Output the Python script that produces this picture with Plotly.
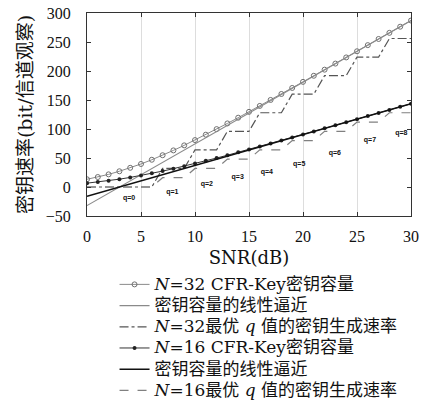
import plotly.graph_objects as go

snr_db = list(range(0, 31))

cap_n32 = [13.3, 17.2, 21.8, 27.1, 33.1, 39.7, 47.0, 54.8, 63.1, 71.8, 80.9,
           90.2, 99.8, 109.6, 119.5, 129.6, 139.8, 150.1, 160.4, 170.8, 181.3,
           191.8, 202.3, 212.8, 223.4, 234.0, 244.6, 255.2, 265.8, 276.4, 287.0]
cap_n16 = [6.6, 8.6, 10.9, 13.5, 16.5, 19.9, 23.5, 27.4, 31.6, 35.9, 40.4,
           45.1, 49.9, 54.8, 59.8, 64.8, 69.9, 75.0, 80.2, 85.4, 90.6,
           95.9, 101.1, 106.4, 111.7, 117.0, 122.3, 127.6, 132.9, 138.2, 143.5]

lin_x = [0, 30]
lin_n32 = [-32.0, 287.0]
lin_n16 = [-16.0, 143.5]

rate_n32 = [0, 0, 0, 0, 0, 0, 0, 32, 32, 32, 64, 64, 64, 96, 96, 96,
            128, 128, 128, 160, 160, 160, 192, 192, 192, 224, 224, 224,
            256, 256, 256]
rate_n16 = [0, 0, 0, 0, 0, 0, 0, 16, 16, 16, 32, 32, 32, 48, 48, 48,
            64, 64, 64, 80, 80, 80, 96, 96, 96, 112, 112, 112,
            128, 128, 128]

q_labels = ["q=0", "q=1", "q=2", "q=3", "q=4", "q=5", "q=6", "q=7", "q=8"]
q_x = [3.9, 7.9, 11.1, 13.95, 16.65, 19.65, 22.95, 26.2, 29.1]
q_y = [-20, -8.5, 5.5, 16, 26, 39, 57.5, 80.5, 93]

x_ticks = [0, 5, 10, 15, 20, 25, 30]
y_ticks = [-50, 0, 50, 100, 150, 200, 250, 300]

names = [
    "<i>N</i>=32 CFR-Key密钥容量",
    "密钥容量的线性逼近",
    "<i>N</i>=32最优 <i>q</i> 值的密钥生成速率",
    "<i>N</i>=16 CFR-Key密钥容量",
    "密钥容量的线性逼近",
    "<i>N</i>=16最优 <i>q</i> 值的密钥生成速率",
]

def big(s):
    return '<span style="font-size:17px">' + s + '</span>'

fig = go.Figure()
fig.add_trace(go.Scatter(x=snr_db, y=cap_n32, mode="lines+markers", name=big(names[0]),
                         line=dict(color="#8a8a8a", width=1),
                         marker=dict(symbol="circle-open", size=5, color="#707070",
                                     line=dict(width=1))))
fig.add_trace(go.Scatter(x=lin_x, y=lin_n32, mode="lines", name=big(names[1]),
                         line=dict(color="#8a8a8a", width=1.1)))
fig.add_trace(go.Scatter(x=snr_db, y=rate_n32, mode="lines", name=big(names[2]),
                         line=dict(color="#555555", width=1.2, dash="dashdot")))
fig.add_trace(go.Scatter(x=snr_db, y=cap_n16, mode="lines+markers", name=big(names[3]),
                         line=dict(color="#333333", width=1),
                         marker=dict(symbol="circle", size=4, color="#222222")))
fig.add_trace(go.Scatter(x=lin_x, y=lin_n16, mode="lines", name=big(names[4]),
                         line=dict(color="#111111", width=1.6)))
fig.add_trace(go.Scatter(x=snr_db, y=rate_n16, mode="lines", name=big(names[5]),
                         line=dict(color="#808080", width=1.2, dash="dash")))
fig.add_trace(go.Scatter(x=q_x, y=q_y, mode="text", text=q_labels, showlegend=False,
                         textfont=dict(family="Liberation Sans, Arial", size=7,
                                       color="#111111", weight="bold"),
                         hoverinfo="skip"))

tick_font = dict(family="Liberation Serif", size=16, color="#111111")
xtitle_font = dict(family="DejaVu Serif, Noto Sans CJK SC", size=18, color="#111111")
ytitle_font = dict(family="DejaVu Serif, Noto Sans CJK SC", size=19, color="#111111")

fig.update_layout(
    width=426, height=407,
    margin=dict(l=87, r=15, t=13, b=191, autoexpand=False),
    paper_bgcolor="white", plot_bgcolor="white",
    font=dict(family="DejaVu Serif, Noto Sans CJK SC", color="#111111"),
    showlegend=True,
    legend=dict(x=0.085, y=-0.26, xanchor="left", yanchor="top",
                bgcolor="rgba(0,0,0,0)", borderwidth=0,
                font=dict(family="DejaVu Serif, Noto Sans CJK SC", size=14, color="#111111"),
                tracegroupgap=0, itemwidth=30),
)
fig.update_xaxes(range=[0, 30], tickvals=x_ticks, ticks="inside", ticklen=4,
                 tickcolor="#333333", mirror="ticks", showline=True, linecolor="#333333",
                 linewidth=1, showgrid=True, gridcolor="#dddddd", gridwidth=1,
                 zeroline=False, tickfont=tick_font, ticklabelstandoff=6,
                 automargin=False,
                 title=dict(text="SNR(dB)", font=xtitle_font, standoff=7))
fig.update_yaxes(range=[-50, 300], tickvals=y_ticks, ticks="inside", ticklen=4,
                 tickcolor="#333333", mirror="ticks", showline=True, linecolor="#333333",
                 linewidth=1, showgrid=False, zeroline=False, tickfont=tick_font,
                 ticklabelstandoff=12, automargin=False,
                 title=dict(text="密钥速率(bit/信道观察)", font=ytitle_font, standoff=8))

fig.write_html("out.html", config={"displayModeBar": False},
               post_script="document.body.style.margin='0';")
